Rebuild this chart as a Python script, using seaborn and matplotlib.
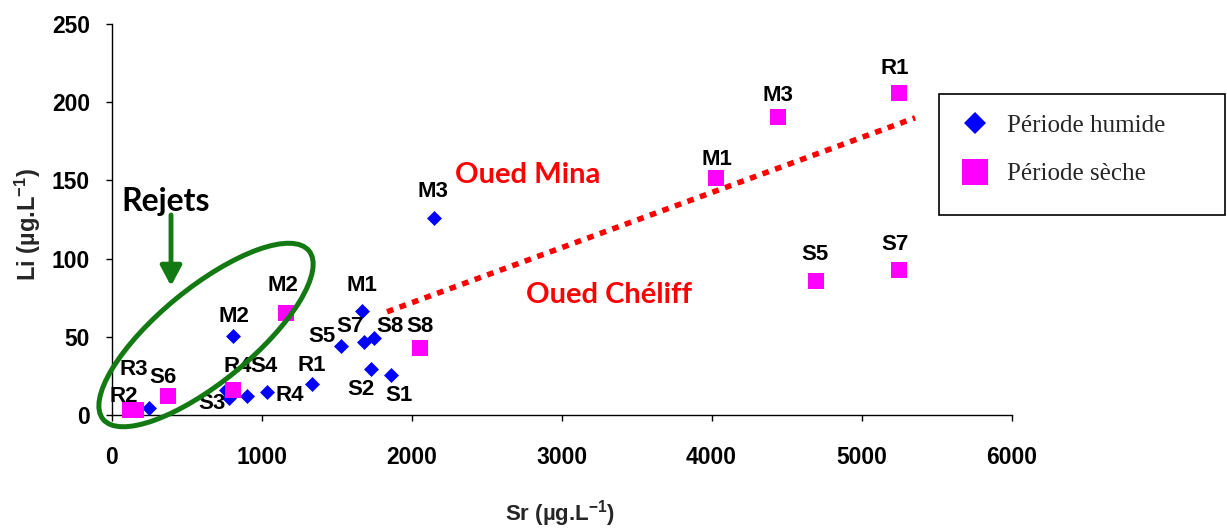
import matplotlib
matplotlib.use("Agg")
import matplotlib.pyplot as plt
from matplotlib.patches import Ellipse, Rectangle
from matplotlib.lines import Line2D
from matplotlib.transforms import IdentityTransform
import pandas as pd
import seaborn as sns

# ---- data: Sr and Li concentrations (µg/L) per sampling site ----
humid_sites = ["M3", "M1", "S7", "S8", "S5", "S2", "S1", "R1", "M2", "S4", "R4", "S3", "S6", "R2"]
humid_sr = [2150, 1668, 1683, 1750, 1530, 1730, 1863, 1337, 808, 1039, 901, 785, 763, 247]
humid_li = [126.2, 66.7, 46.9, 49.0, 44.1, 29.4, 25.6, 19.8, 50.7, 14.5, 12.3, 10.7, 16.0, 4.2]

dry_sites = ["R1", "M3", "M1", "S5", "S7", "S8", "M2", "R4", "S6", "R2", "R3"]
dry_sr = [5250, 4443, 4030, 4697, 5250, 2057, 1160, 810, 377, 120, 160]
dry_li = [206.1, 190.7, 151.7, 85.8, 92.7, 42.6, 65.4, 15.7, 12.1, 3.5, 3.5]

period_names = ["Période humide", "Période sèche"]

# dotted separation between the Mina and Chéliff groups
trend_sr = [1837, 5357]
trend_li = [66, 190]

x_ticks = [0, 1000, 2000, 3000, 4000, 5000, 6000]
y_ticks = [0, 50, 100, 150, 200, 250]

# ---- label placement (pixel offsets from the marker, y pointing down) ----
humid_label_offsets = {
    "M3": (-1.5, -26), "M1": (0, -25), "S7": (-14.3, -15), "S8": (15.5, -11.6),
    "S5": (-19.3, -9.3), "S2": (-10, 20), "S1": (7.7, 21), "R1": (0, -19),
    "M2": (1.3, -19), "S4": (-3.3, -25.8), "R4": (42.8, 0), "S3": (-17.6, 5.7),
}
dry_label_offsets = {
    "R1": (-4, -24), "M3": (0.3, -21), "M1": (0.7, -18.7), "S5": (-1, -26.7),
    "S7": (-3.5, -26), "S8": (0.3, -21.6), "M2": (-2.5, -27.5), "R4": (5, -24),
    "S6": (-5, -18.5), "R2": (-6.2, -13.5), "R3": (-2.2, -40.5),
}

humid_df = pd.DataFrame({"site": humid_sites, "Sr": humid_sr, "Li": humid_li})
dry_df = pd.DataFrame({"site": dry_sites, "Sr": dry_sr, "Li": dry_li})

BLUE = "#0000FF"
PINK = "#FF00FF"
RED = "#FF0000"
GREEN = "#137A13"

sns.set_style("ticks")
plt.rcParams["font.family"] = ["Liberation Sans", "DejaVu Sans"]
plt.rcParams["mathtext.fontset"] = "custom"
plt.rcParams["mathtext.rm"] = "Liberation Sans:bold"
plt.rcParams["mathtext.it"] = "Liberation Sans:bold"
plt.rcParams["mathtext.bf"] = "Liberation Sans:bold"

W, H = 1227, 531
fig = plt.figure(figsize=(W / 100, H / 100), dpi=100)
ax = fig.add_axes([111.5 / W, 1 - 415 / H, 900 / W, 391 / H])


def fig_px(x, y):
    """Figure fraction from pixel position measured from the top-left corner."""
    return x / W, 1 - y / H


sns.scatterplot(data=humid_df, x="Sr", y="Li", marker="D", s=58, color=BLUE,
                linewidth=0, ax=ax, legend=False, clip_on=False, zorder=3)
sns.scatterplot(data=dry_df, x="Sr", y="Li", marker="s", s=125, color=PINK,
                linewidth=0, ax=ax, legend=False, clip_on=False, zorder=4)

ax.plot(trend_sr, trend_li, color=RED, lw=4, linestyle=(0, (1.2, 1.2)),
        dash_capstyle="butt", zorder=2)

label_kw = dict(textcoords="offset pixels", ha="center", va="center",
                fontsize=16, fontweight="bold", color="black", zorder=5,
                annotation_clip=False)
for df, offsets in ((humid_df, humid_label_offsets), (dry_df, dry_label_offsets)):
    for site, sr, li in zip(df["site"], df["Sr"], df["Li"]):
        if site in offsets:
            dx, dy = offsets[site]
            ax.annotate(site, (sr, li), xytext=(dx, -dy), **label_kw)

ax.set_xlim(0, 6000)
ax.set_ylim(0, 250)
ax.set_xticks(x_ticks)
ax.set_yticks(y_ticks)
ax.tick_params(axis="both", direction="out", length=4.5, width=1, color="black",
               labelsize=16.5, labelcolor="black")
ax.tick_params(axis="x", pad=18)
ax.tick_params(axis="y", pad=11)
for lbl in ax.get_xticklabels() + ax.get_yticklabels():
    lbl.set_fontweight("bold")
sns.despine(ax=ax)
for side in ("left", "bottom"):
    ax.spines[side].set_color("black")
    ax.spines[side].set_linewidth(1.0)

ax.set_xlabel("Sr (µg.L$^{-1}$)", fontsize=16, fontweight="bold")
ax.set_ylabel("Li (µg.L$^{-1}$)", fontsize=17, fontweight="bold")
ax.xaxis.label.set(va="center", ha="center")
ax.yaxis.label.set(va="center", ha="center")
ax.xaxis.set_label_coords((560 - 111.5) / 900, (415 - 514) / 391)
ax.yaxis.set_label_coords((28 - 111.5) / 900, (415 - 225) / 391)

# group names
fig.text(*fig_px(528, 183.3), "Oued Mina", color=RED, fontsize=21,
         fontweight="bold", family="Lato", ha="center", va="baseline")
fig.text(*fig_px(609, 303), "Oued Chéliff", color=RED, fontsize=21,
         fontweight="bold", family="Lato", ha="center", va="baseline")
fig.text(*fig_px(166, 210.7), "Rejets", color="black", fontsize=23,
         fontweight="bold", family="Lato", ha="center", va="baseline")

# effluent cluster outline and arrow
fig.add_artist(Ellipse((206, H - 335), 266, 94, angle=39.3, transform=IdentityTransform(),
                       fill=False, edgecolor=GREEN, lw=3.6, zorder=6))
ax.annotate("", xy=(171, H - 286), xycoords="figure pixels",
            xytext=(171, H - 215), textcoords="figure pixels",
            arrowprops=dict(arrowstyle="-|>,head_length=0.6,head_width=0.32",
                            color=GREEN, lw=3.5, mutation_scale=20,
                            shrinkA=0, shrinkB=0))

# legend with its own box
handles = [
    Line2D([], [], marker="D", ls="", color=BLUE, markersize=11.7, markeredgewidth=0),
    Line2D([], [], marker="s", ls="", color=PINK, markersize=18.4, markeredgewidth=0),
]
ax.legend(handles, period_names, loc="upper left",
          bbox_to_anchor=fig_px(960, 114), bbox_transform=fig.transFigure,
          frameon=False, prop=dict(family="Liberation Serif", size=18),
          handlelength=1.2, handletextpad=0.68, labelspacing=1.05,
          borderpad=0, borderaxespad=0)
fig.add_artist(Rectangle((939, H - 215), 286, 121, transform=IdentityTransform(),
                         fill=False, edgecolor="black", lw=1.2))

fig.savefig("out.png", dpi=100)
